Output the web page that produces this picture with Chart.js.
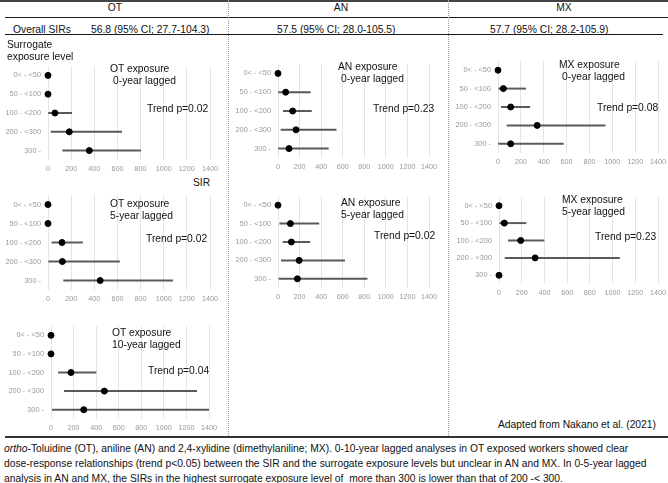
<!DOCTYPE html>
<html>
<head>
<meta charset="utf-8">
<script src="https://cdn.jsdelivr.net/npm/chart.js@4/dist/chart.umd.min.js"></script>
<style>
  body { margin: 0; width: 668px; height: 483px; position: relative; overflow: hidden; background: #fff;
         font-family: "Liberation Sans", Arial, sans-serif; color: #111; }
  .t { position: absolute; font-size: 10.3px; line-height: 12px; white-space: nowrap; z-index: 2; }
  .c { transform: translateX(-50%); }
  .hl { position: absolute; background: #1a1a1a; }
  .vl { position: absolute; width: 0; border-left: 1px dotted #9a9a9a; }
  canvas { position: absolute; z-index: 1; }
  .cap { position: absolute; left: 4px; top: 441px; font-size: 10.3px; line-height: 15px; white-space: nowrap; }
</style>
</head>
<body>

<div class="hl" style="left:0;top:0;width:668px;height:2px;background:#444"></div>
<div class="hl" style="left:5px;top:17px;width:663px;height:1px"></div>
<div class="hl" style="left:5px;top:34px;width:658px;height:1px"></div>
<div class="hl" style="left:5px;top:436px;width:663px;height:2px;background:#333"></div>
<div class="vl" style="left:228px;top:0;height:436px"></div>
<div class="vl" style="left:448px;top:0;height:436px"></div>

<div class="t c" style="left:115px;top:2px">OT</div>
<div class="t c" style="left:341px;top:2px">AN</div>
<div class="t c" style="left:564px;top:2px">MX</div>
<div class="t" style="left:13px;top:24px">Overall SIRs</div>
<div class="t" style="left:91px;top:24px">56.8 (95% CI; 27.7-104.3)</div>
<div class="t" style="left:277px;top:24px">57.5 (95% CI; 28.0-105.5)</div>
<div class="t" style="left:490px;top:24px">57.7 (95% CI; 28.2-105.9)</div>
<div class="t" style="left:7px;top:39px">Surrogate<br>exposure level</div>
<div class="t" style="left:193px;top:177px">SIR</div>

<div class="t" style="left:110px;top:63px">OT exposure</div>
<div class="t" style="left:113px;top:75px">0-year lagged</div>
<div class="t" style="left:147px;top:103px">Trend p=0.02</div>
<div class="t" style="left:110px;top:198px">OT exposure<br>5-year lagged</div>
<div class="t" style="left:146px;top:233px">Trend p=0.02</div>
<div class="t" style="left:112px;top:327px">OT exposure<br>10-year lagged</div>
<div class="t" style="left:148px;top:365px">Trend p=0.04</div>

<div class="t" style="left:338px;top:61px">AN exposure</div>
<div class="t" style="left:341px;top:73px">0-year lagged</div>
<div class="t" style="left:373px;top:103px">Trend p=0.23</div>
<div class="t" style="left:341px;top:197px">AN exposure<br>5-year lagged</div>
<div class="t" style="left:374px;top:230px">Trend p=0.02</div>

<div class="t" style="left:559px;top:59px">MX exposure</div>
<div class="t" style="left:562px;top:71px">0-year lagged</div>
<div class="t" style="left:597px;top:102px">Trend p=0.08</div>
<div class="t" style="left:562px;top:194px">MX exposure<br>5-year lagged</div>
<div class="t" style="left:595px;top:231px">Trend p=0.23</div>

<div class="t" style="left:498px;top:419px">Adapted from Nakano et al. (2021)</div>

<div class="cap"><i>ortho</i>-Toluidine (OT), aniline (AN) and 2,4-xylidine (dimethylaniline; MX). 0-10-year lagged analyses in OT exposed workers showed clear<br>dose-response relationships (trend p&lt;0.05) between the SIR and the surrogate exposure levels but unclear in AN and MX. In 0-5-year lagged<br>analysis in AN and MX, the SIRs in the highest surrogate exposure level of &nbsp;more than 300 is lower than that of 200 -&lt; 300.</div>

<canvas id="ot0"></canvas>
<canvas id="ot5"></canvas>
<canvas id="ot10"></canvas>
<canvas id="an0"></canvas>
<canvas id="an5"></canvas>
<canvas id="mx0"></canvas>
<canvas id="mx5"></canvas>

<script>
// surrogate exposure levels (rows) and SIR axis
const levels = ['0< - <50', '50 - <100', '100 - <200', '200 - <300', '300 -'];
const sirMin = 0;
const sirMax = 1400;
const sirStep = 200;

// SIR point estimates and 95% CI per panel
const ot0Sir  = [0, 0, 60, 184, 357];
const ot0Low  = [0, 0, 0, 26, 127];
const ot0High = [0, 0, 205, 637, 801];

const ot5Sir  = [0, 0, 121, 124, 451];
const ot5Low  = [0, 0, 34, 6, 135];
const ot5High = [0, 0, 299, 618, 1078];

const ot10Sir  = [0, 0, 177, 473, 290];
const ot10Low  = [0, 0, 65, 118, 12];
const ot10High = [0, 0, 399, 1291, 1400];

const an0Sir  = [0, 71, 136, 167, 102];
const an0Low  = [0, 0, 49, 28, 0];
const an0High = [0, 300, 310, 539, 467];

const an5Sir  = [0, 115, 124, 196, 180];
const an5Low  = [0, 16, 47, 31, 9];
const an5High = [0, 379, 295, 618, 826];

const mx0Sir  = [0, 47, 111, 343, 111];
const mx0Low  = [0, 6, 29, 79, 0];
const mx0High = [0, 243, 278, 938, 571];

const mx5Sir  = [0, 47, 191, 318, 0];
const mx5Low  = [0, 6, 82, 53, 0];
const mx5High = [0, 238, 397, 1061, 0];

const axisW = 48, xAxisH = 16, padR = 12;

function panel(id, sir, low, high, L, R, T, B) {
  const cv = document.getElementById(id);
  const w = axisW + (R - L) + padR;
  const h = (B - T) + xAxisH;
  cv.width = w; cv.height = h;
  cv.style.left = (L - axisW) + 'px';
  cv.style.top = T + 'px';
  cv.style.width = w + 'px';
  cv.style.height = h + 'px';

  new Chart(cv, {
    type: 'bar',
    data: {
      labels: levels,
      datasets: [
        {
          type: 'bar',
          data: low.map((v, i) => [v, high[i]]),
          backgroundColor: '#5a5a5a',
          barThickness: 1.3,
          order: 2
        },
        {
          type: 'scatter',
          data: sir.map((v, i) => ({ x: v, y: levels[i] })),
          backgroundColor: '#000',
          borderColor: '#000',
          pointRadius: 3,
          clip: false,
          order: 1
        }
      ]
    },
    options: {
      indexAxis: 'y',
      responsive: false,
      animation: false,
      layout: { padding: { right: padR } },
      plugins: { legend: { display: false }, tooltip: { enabled: false } },
      scales: {
        x: {
          type: 'linear',
          min: sirMin, max: sirMax,
          ticks: { stepSize: sirStep, padding: 5, maxRotation: 0, minRotation: 0, autoSkip: false,
                   color: '#999', font: { size: 7.2, family: 'Liberation Sans' },
                   callback: v => String(v) },
          grid: { color: '#e4e4e4', drawTicks: false },
          border: { display: false },
          afterFit(s) { s.height = xAxisH; s.paddingLeft = 0; s.paddingRight = 0; }
        },
        y: {
          type: 'category',
          offset: true,
          ticks: { padding: 7, color: '#999', font: { size: 7.4, family: 'Liberation Sans' } },
          grid: { display: false, drawTicks: false },
          border: { display: false },
          afterFit(s) { s.width = axisW; s.paddingTop = 0; s.paddingBottom = 0; }
        }
      }
    }
  });
}

panel('ot0', ot0Sir, ot0Low, ot0High, 48, 210, 61, 160);
panel('ot5', ot5Sir, ot5Low, ot5High, 48, 210, 190, 290);
panel('ot10', ot10Sir, ot10Low, ot10High, 51, 209, 321, 419);
panel('an0', an0Sir, an0Low, an0High, 278, 429, 59, 158);
panel('an5', an5Sir, an5Low, an5High, 278, 429, 191, 288);
panel('mx0', mx0Sir, mx0Low, mx0High, 498, 658, 56, 153);
panel('mx5', mx5Sir, mx5Low, mx5High, 499, 658, 192, 284);
</script>
</body>
</html>
